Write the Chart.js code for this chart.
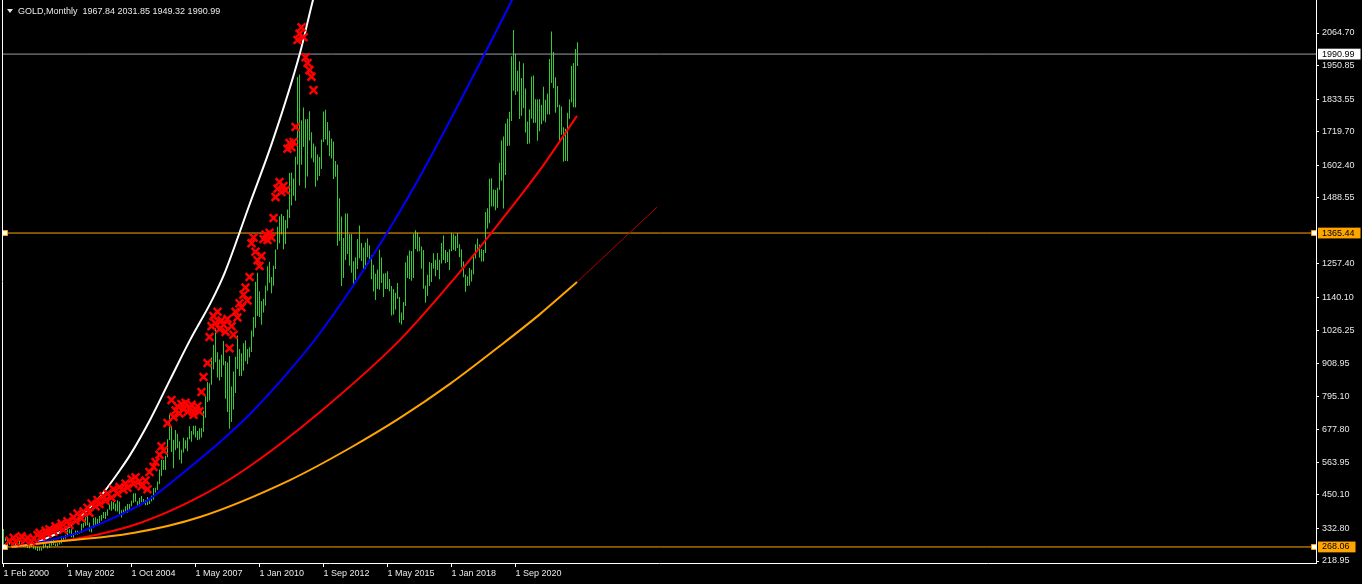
<!DOCTYPE html>
<html>
<head>
<meta charset="utf-8">
<script src="https://cdn.jsdelivr.net/npm/chart.js@4.4.1/dist/chart.umd.min.js"></script>
<style>
  html, body { margin: 0; padding: 0; background: #000; overflow: hidden; }
  #wrap { position: relative; width: 1362px; height: 584px; }
</style>
</head>
<body>
<div id="wrap"><canvas id="chart"></canvas></div>
<script>
// monthly bars, [high, low], one per bar slot from 1 Feb 2000 to Apr 2023
var barHL = [
  [331,275],[303,289],[296,274],[289,276],[285,273],[281,270],[293,272],[290,277],[291,276],[282,271],
  [279,270],[276,268],[275,264],[271,263],[275,268],[273,262],[270,258],[269,254],[268,255],[265,255],
  [293,263],[279,266],[272,263],[280,264],[294,272],[294,275],[280,271],[281,271],[285,277],[305,280],
  [304,288],[311,297],[329,308],
  [330,315],[330,302],[316,300],[326,311],[325,312],[322,315],[349,317],[352,335],[372,342],[382,344],
  [353,322],[340,319],[370,335],[372,343],[367,342],[376,352],[380,360],[390,368],[390,366],[400,377],
  [417,398],[428,395],[425,400],[420,393],[431,392],[427,381],[396,371],[399,382],[410,387],[418,388],
  [418,398],[430,410],
  [456,423],[456,426],[428,411],[440,410],[446,424],[436,421],[431,414],[443,415],[431,418],[447,427],
  [474,433],[475,458],[497,467],[539,488],[573,516],[572,538],[587,537],[645,582],[730,642],[690,600],
  [643,543],[677,606],[664,613],[638,573],[608,560],[650,598],[641,612],[652,603],[690,645],[673,636],
  [692,660],
  [692,651],[673,642],[683,644],[684,651],[744,671],[795,720],[845,775],[840,780],
  [930,835],[975,889],[1033,914],[949,860],[923,850],[940,862],[988,903],[918,786],[913,740],[936,681],[829,705],[881,749],
  [933,806],[1007,890],[960,866],[945,866],[980,884],[990,917],[960,908],[966,931],[1025,950],[1072,1003],[1195,1034],[1227,1075],
  [1162,1072],[1128,1045],[1136,1088],[1181,1111],[1249,1164],[1265,1192],[1212,1155],[1251,1181],[1308,1240],[1387,1308],[1424,1330],[1432,1360],
  [1425,1309],[1411,1327],[1448,1382],[1575,1418],[1577,1462],[1556,1496],[1632,1478],[1911,1605],[1920,1532],[1760,1604],[1804,1666],[1763,1522],
  [1764,1563],[1791,1689],[1718,1627],[1678,1613],[1668,1527],[1640,1549],[1631,1565],[1692,1589],[1790,1684],[1796,1692],[1754,1672],[1723,1635],
  [1695,1626],[1685,1554],[1617,1562],[1605,1321],[1487,1338],[1423,1180],[1348,1208],[1434,1271],[1434,1292],[1361,1251],[1362,1227],[1267,1187],
  [1280,1202],[1345,1240],[1392,1277],[1331,1268],[1315,1240],[1332,1240],[1346,1281],[1323,1273],[1287,1204],[1255,1161],[1223,1131],[1238,1170],
  [1307,1167],[1280,1191],[1224,1142],[1225,1170],[1232,1169],[1205,1162],[1180,1077],[1170,1080],[1157,1098],[1191,1136],[1142,1052],[1088,1046],
  [1124,1061],[1263,1110],[1287,1208],[1304,1205],[1303,1199],[1362,1208],[1375,1310],[1367,1301],[1352,1302],[1318,1241],[1306,1171],[1182,1122],
  [1220,1146],[1264,1180],[1261,1194],[1295,1241],[1272,1214],[1296,1236],[1272,1204],[1331,1259],[1357,1271],[1306,1260],[1299,1264],[1309,1236],
  [1366,1302],[1361,1307],[1356,1303],[1365,1313],[1326,1281],[1309,1245],[1266,1211],[1220,1160],[1214,1180],[1243,1182],[1237,1196],[1284,1221],
  [1326,1276],[1346,1300],[1325,1280],[1310,1266],[1306,1266],[1439,1296],[1452,1381],[1555,1400],[1557,1459],[1518,1458],[1516,1445],[1524,1454],
  [1611,1517],[1689,1548],[1703,1451],[1748,1568],[1765,1670],[1789,1671],[1983,1757],[2075,1863],[1992,1848],[1933,1860],[1966,1764],[1907,1775],
  [1959,1802],[1871,1717],[1755,1677],[1798,1678],[1913,1765],[1916,1750],[1833,1751],[1832,1688],[1834,1721],[1814,1746],[1877,1758],[1831,1753],
  [1853,1781],[1974,1780],[2070,1890],[1998,1872],[1910,1786],[1879,1805],[1814,1681],[1808,1709],[1735,1615],[1730,1617],[1786,1616],[1833,1765],
  [1949,1823],[1960,1805],[2009,1804],[2032,1949]
];

// red cross markers [bar slot, price]
var crossMarks = [
  [3,290],[5,300],[6,286],[8,296],[9,305],[11,292],[12,300],[14,288],[15,298],[17,310],[18,318],[19,305],
  [21,325],[22,314],[23,330],[25,322],[26,340],[28,335],[29,350],[30,328],[32,358],[33,345],[35,372],[36,360],
  [37,385],[39,368],[40,392],[42,405],[43,388],[44,420],[46,410],[47,432],[48,418],[50,445],[51,430],[52,455],
  [54,440],[55,470],[57,455],[58,478],[60,468],[61,490],[62,475],[64,505],[65,488],[66,512],[68,498],[69,480],
  [71,500],[72,470],[73,530],[75,548],[76,565],[78,590],[79,620],[80,605],
  [82,701],[84,782],[85,722],[86,745],[87,760],[88,735],[89,768],[90,750],[91,772],[92,740],[93,755],[94,765],
  [95,730],[96,748],[97,760],[98,742],[99,810],[100,862],[102,911],[103,1002],[104,1040],[105,1075],[106,1050],
  [107,1090],[108,1030],[109,1060],[110,1045],[111,1020],[112,1065],[113,963],[114,1040],[115,1010],[116,1090],
  [117,1070],[118,1120],[119,1105],[120,1150],[121,1175],[122,1130],[123,1212],[124,1330],[125,1350],[126,1300],
  [127,1270],[128,1250],[129,1285],[130,1345],[131,1360],[132,1341],[133,1366],[134,1350],[135,1418],[136,1491],
  [137,1520],[138,1544],[139,1509],[140,1530],[141,1515],[142,1660],[143,1680],[144,1665],[145,1684],[146,1736],
  [147,2040],[148,2062],[149,2085],[150,2050],[151,1980],[152,1960],[153,1935],[154,1912],[155,1865]
];

// curves [bar slot, price]
var whiteCurve = [[4,268],[15,280],[23.25,304],[31.75,334],[38.25,373],[48.25,443],[58.25,537],[63.25,589],
  [73.25,712],[83.25,852],[93.25,991],[104.25,1131],[110.75,1229],[122.75,1460],[134.75,1691],[148.25,1995],
  [154.75,2180],[157.25,2243]];
var blueCurve = [[4,268],[23.25,292],[38.25,320],[48.25,349],[58.25,380],[68.25,415],[73.25,436],[93.25,547],
  [108.25,635],[123.25,733],[140.75,866],[158.25,1016],[183.25,1271],[207.25,1551],[238.25,1960],[249.25,2110],
  [254.25,2180],[258.25,2236]];
var redCurve = [[4,268],[38.25,299],[68.25,352],[99.75,450],[123.25,551],[158.25,740],[198.25,992],
  [224.75,1201],[244.25,1369],[268.25,1586],[286.75,1775]];
var orangeCurve = [[4,268],[19.75,282],[64.75,317],[98.25,373],[143.25,502],[173.25,614],
  [198.25,719],[223.25,838],[248.25,971],[268.25,1082],[286.75,1194]];
var darkRedLine = [[286.75,1194],[326.75,1456]];

var levelValues = [1990.99, 1365.44, 268.06];
var levelColors = ['#9aa0a6', '#ffa500', '#ffa500'];
var levelBoxColors = ['#ffffff', '#ffa500', '#ffa500'];

var yTicks = [2064.70, 1990.99, 1950.85, 1833.55, 1719.70, 1602.40, 1488.55, 1365.44, 1257.40, 1140.10,
  1026.25, 908.95, 795.10, 677.80, 563.95, 450.10, 332.80, 268.06, 218.95];
var xTickSlots = [0, 32, 64, 96, 128, 160, 192, 224, 256];
var xLabels = ['1 Feb 2000', '1 May 2002', '1 Oct 2004', '1 May 2007', '1 Jan 2010', '1 Sep 2012',
  '1 May 2015', '1 Jan 2018', '1 Sep 2020'];

var headerText = 'GOLD,Monthly  1967.84 2031.85 1949.32 1990.99';

var textColor = '#e8e8e8';
var fontSpec = { family: 'Liberation Sans, Arial, sans-serif', size: 9 };

function levelIndex(v) {
  for (var i = 0; i < levelValues.length; i++) {
    if (Math.abs(levelValues[i] - v) < 0.001) return i;
  }
  return -1;
}

function toPts(arr) {
  return arr.map(function (p) { return { x: p[0], y: p[1] }; });
}

var datasets = [];

datasets.push({
  type: 'bar',
  data: barHL.map(function (hl, i) { return { x: i, y: [hl[1], hl[0]] }; }),
  backgroundColor: '#32cd32',
  borderWidth: 0,
  barThickness: 1,
  inflateAmount: 0,
  grouped: false,
  order: 6
});

levelValues.forEach(function (v, k) {
  var sq = k > 0 ? 3.5 : 0;
  datasets.push({
    type: 'line',
    data: [{ x: -0.75, y: v }, { x: 0.75, y: v }, { x: 655.25, y: v }, { x: 656.25, y: v }],
    borderColor: levelColors[k],
    borderWidth: 1,
    pointStyle: 'rect',
    pointRadius: [0, sq, sq, 0],
    pointBackgroundColor: '#ffffff',
    pointBorderColor: levelColors[k],
    pointBorderWidth: 1,
    order: 5
  });
});

[[orangeCurve, '#ffa500'], [redCurve, '#ff0000'], [blueCurve, '#0000ff'], [whiteCurve, '#ffffff']].forEach(function (c) {
  datasets.push({
    type: 'line',
    data: toPts(c[0]),
    borderColor: c[1],
    borderWidth: 2,
    pointRadius: 0,
    cubicInterpolationMode: 'monotone',
    fill: false,
    order: 3
  });
});

datasets.push({
  type: 'line',
  data: toPts(darkRedLine),
  borderColor: '#b00000',
  borderWidth: 1,
  pointRadius: 0,
  fill: false,
  order: 3
});

datasets.push({
  type: 'scatter',
  data: toPts(crossMarks),
  pointStyle: 'crossRot',
  pointRadius: 5.5,
  borderColor: '#ff0000',
  pointBorderColor: '#ff0000',
  borderWidth: 2.5,
  pointBorderWidth: 2.5,
  order: 1
});

var framePlugin = {
  id: 'frame',
  afterDraw: function (chart) {
    var ctx = chart.ctx, a = chart.chartArea;
    ctx.save();
    ctx.strokeStyle = '#ffffff';
    ctx.lineWidth = 1;
    ctx.beginPath();
    ctx.moveTo(Math.round(a.left) + 0.5, 0);
    ctx.lineTo(Math.round(a.left) + 0.5, a.bottom);
    ctx.stroke();
    ctx.fillStyle = textColor;
    ctx.beginPath();
    ctx.moveTo(7, 9);
    ctx.lineTo(13, 9);
    ctx.lineTo(10, 13);
    ctx.closePath();
    ctx.fill();
    ctx.font = '9px "Liberation Sans", Arial, sans-serif';
    ctx.textBaseline = 'alphabetic';
    ctx.fillText(headerText, 18, 14);
    ctx.restore();
  }
};

new Chart(document.getElementById('chart'), {
  type: 'line',
  data: { datasets: datasets },
  plugins: [framePlugin],
  options: {
    responsive: true,
    maintainAspectRatio: false,
    animation: false,
    events: [],
    layout: { autoPadding: false, padding: { left: 2, right: 0, top: 0, bottom: 0 } },
    plugins: { legend: { display: false }, tooltip: { enabled: false }, title: { display: false } },
    scales: {
      x: {
        type: 'linear',
        min: -0.75,
        max: 656.25,
        bounds: 'data',
        offset: false,
        afterBuildTicks: function (s) {
          s.ticks = xTickSlots.map(function (v) { return { value: v }; });
        },
        afterFit: function (s) {
          s.height = 21;
          s.paddingLeft = 0; s.paddingRight = 0;
        },
        border: { display: true, color: '#ffffff', width: 1 },
        grid: { display: true, drawOnChartArea: false, drawTicks: true, tickLength: 4, color: '#ffffff', offset: false },
        ticks: {
          color: textColor,
          font: fontSpec,
          align: 'start',
          maxRotation: 0,
          autoSkip: false,
          padding: 1,
          callback: function (v) {
            var k = xTickSlots.indexOf(v);
            return k >= 0 ? xLabels[k] : '';
          }
        }
      },
      y: {
        type: 'linear',
        position: 'right',
        min: 211.98,
        max: 2180.06,
        bounds: 'data',
        afterBuildTicks: function (s) {
          s.ticks = yTicks.map(function (v) { return { value: v }; });
        },
        afterFit: function (s) {
          s.width = 46;
          s.paddingTop = 0; s.paddingBottom = 0;
        },
        border: { display: true, color: '#ffffff', width: 1 },
        grid: {
          display: true,
          drawOnChartArea: false,
          drawTicks: true,
          tickLength: 3,
          color: '#ffffff',
          tickColor: function (c) {
            return c.tick && levelIndex(c.tick.value) >= 0 ? 'rgba(0,0,0,0)' : '#ffffff';
          }
        },
        ticks: {
          font: fontSpec,
          autoSkip: false,
          padding: 3,
          color: function (c) {
            return c.tick && levelIndex(c.tick.value) >= 0 ? '#000000' : textColor;
          },
          showLabelBackdrop: function (c) {
            return !!(c.tick && levelIndex(c.tick.value) >= 0);
          },
          backdropColor: function (c) {
            var k = c.tick ? levelIndex(c.tick.value) : -1;
            return k >= 0 ? levelBoxColors[k] : 'rgba(0,0,0,0)';
          },
          backdropPadding: { top: 0, bottom: 0, left: 4, right: 6 },
          callback: function (v) { return Number(v).toFixed(2); }
        }
      }
    }
  }
});
</script>
</body>
</html>
